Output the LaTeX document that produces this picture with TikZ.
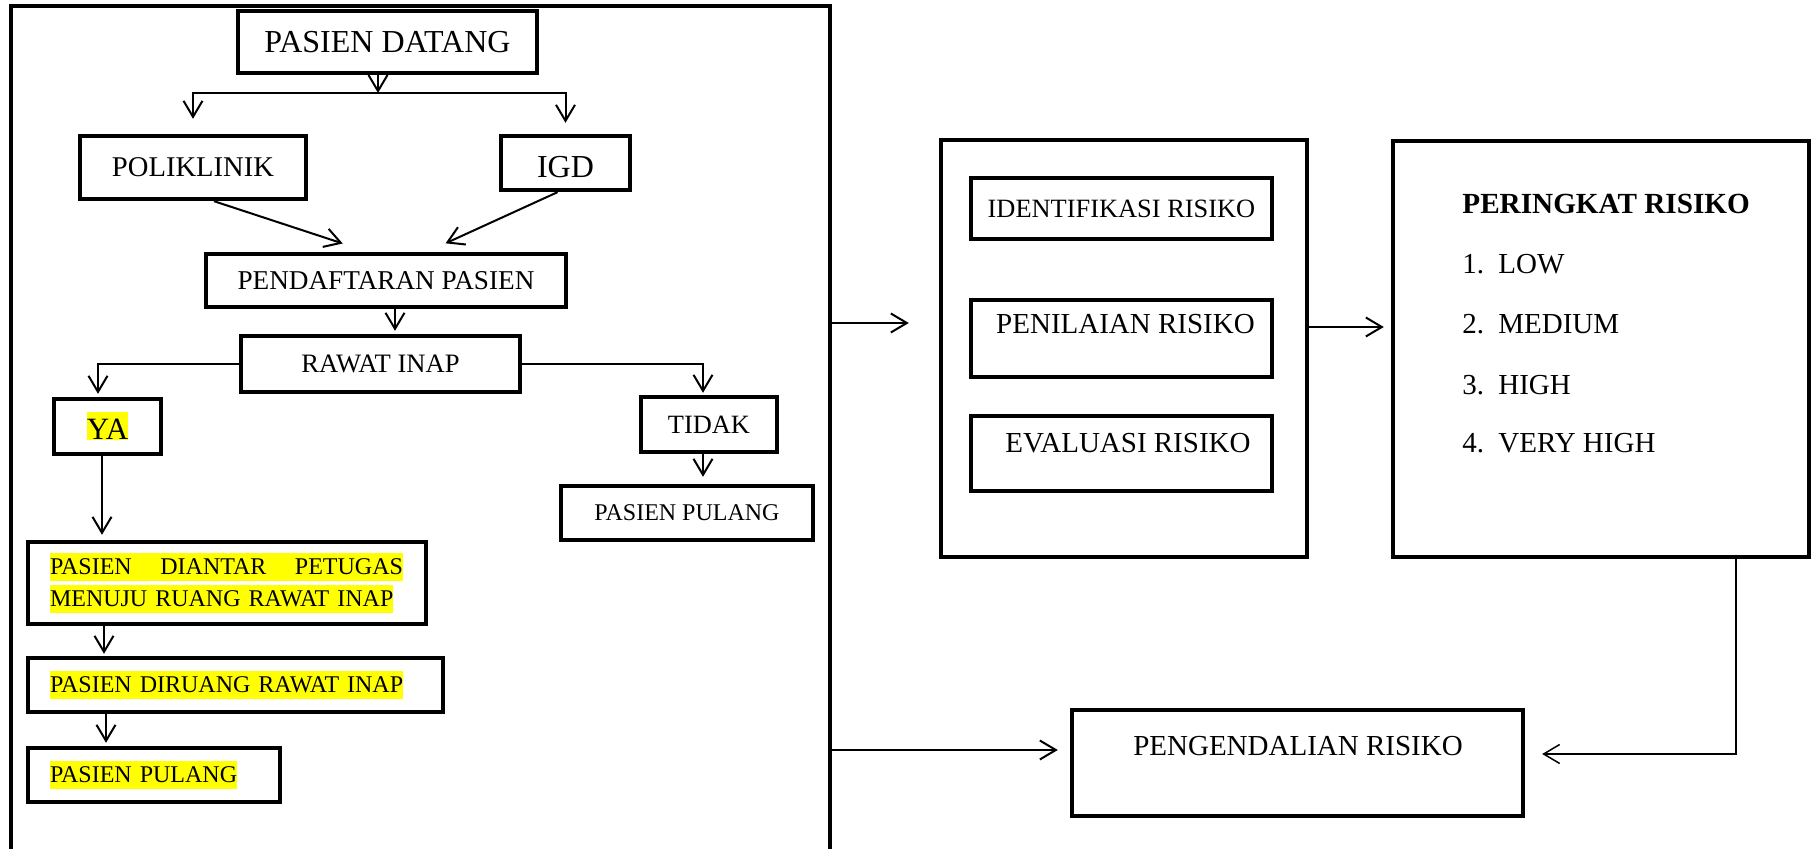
\documentclass[tikz,border=0pt]{standalone}
\usepackage{fontspec}
\setmainfont{Liberation Serif}
\usepackage{tikz}
\usetikzlibrary{arrows.meta}
\usepackage{xcolor}
\definecolor{HlYellow}{RGB}{255,255,0}
\newcommand{\HlMark}[3]{{\setlength{\fboxsep}{0pt}\colorbox{HlYellow}{\rule[-#1]{0pt}{#2}#3}}}
\newcommand{\SizeTo}[1]{\fontsize{#1}{#1}\selectfont}
\tikzstyle{BoxFlow}=[draw=black,line width=2.2pt,inner sep=0pt]
\tikzstyle{BoxLeft}=[BoxFlow,align=left,inner xsep=11pt]
\tikzstyle{EdgeFlow}=[-{Straight Barb[length=8pt,width=9.5pt]},line width=1pt]
\tikzstyle{EdgeThin}=[EdgeFlow,line width=.75pt]
\tikzstyle{TextRank}=[anchor=west,inner sep=0pt,font=\SizeTo{14.5pt}]

\begin{document}
\begin{tikzpicture}[x=.5pt,y=-.5pt]
        \useasboundingbox(0,0)rectangle(1811,849);
        % alur pasien
        \draw[line width=2.2pt](11,849)--(11,6)--(830,6)--(830,849);
        \node[BoxFlow,minimum width=149.5pt,minimum height=31pt,font=\SizeTo{16pt}](datang)at(387.5,42){PASIEN DATANG};
        \node[BoxFlow,minimum width=113pt,minimum height=31.5pt,font=\SizeTo{14.3pt}](poli)at(193,167.5){POLIKLINIK};
        \node[BoxFlow,minimum width=64.5pt,minimum height=27pt,font=\SizeTo{16pt}](igd)at(565.5,163){\raisebox{-2pt}[\height][0pt]{IGD}};
        \node[BoxFlow,minimum width=180pt,minimum height=26.5pt,font=\SizeTo{13.6pt}](daftar)at(386,280.5){PENDAFTARAN PASIEN};
        \node[BoxFlow,minimum width=139.5pt,minimum height=28pt,font=\SizeTo{13.3pt}](rawat)at(380.5,364){RAWAT INAP};
        \node[BoxFlow,minimum width=53.5pt,minimum height=27.5pt,font=\SizeTo{15.5pt}](ya)at(107.5,426.5){\HlMark{.5pt}{14pt}{YA}};
        \node[BoxFlow,minimum width=68pt,minimum height=27.5pt,font=\SizeTo{13.2pt}](tidak)at(709,424.5){TIDAK};
        \node[BoxFlow,minimum width=126pt,minimum height=27pt,font=\SizeTo{12pt}](pulangR)at(687,513){PASIEN PULANG};
        \node[BoxLeft,minimum width=199pt,minimum height=41pt,text width=177pt,font=\fontsize{12pt}{16pt}\selectfont](antar)at(227,583)
            {\HlMark{3pt}{14pt}{\makebox[176.5pt][l]{PASIEN\hfill DIANTAR\hfill PETUGAS}}\\\HlMark{3pt}{14pt}{MENUJU RUANG RAWAT INAP}};
        \node[BoxLeft,minimum width=207.5pt,minimum height=27pt,text width=185.5pt,font=\SizeTo{12pt}](diruang)at(235.5,685){\HlMark{3pt}{14pt}{PASIEN DIRUANG RAWAT INAP}};
        \node[BoxLeft,minimum width=126pt,minimum height=27pt,text width=104pt,font=\SizeTo{12pt}](pulangL)at(154,775){\HlMark{3pt}{14pt}{PASIEN PULANG}};
        \coordinate(fork)at(378,93);
        \draw[line width=1pt](fork-|poli.north)--(fork-|igd.north);
        \draw[EdgeFlow](datang.south-|fork)--(fork);
        \draw[EdgeFlow,shorten >=7.5pt](fork)-|(poli.north);
        \draw[EdgeFlow,shorten >=5.5pt](fork)-|(igd.north);
        \draw[EdgeFlow,shorten >=13.3pt]([xshift=10.5pt]poli.south)--([xshift=-9pt]daftar.north);
        \draw[EdgeFlow,shorten >=10.2pt]([xshift=-4pt]igd.south)--([xshift=20.5pt]daftar.north);
        \draw[EdgeFlow,shorten >=1.5pt]([xshift=4.5pt]daftar.south)--([xshift=4.5pt]daftar.south|-rawat.north);
        \draw[EdgeFlow,shorten >=1.5pt](rawat.west)-|([xshift=-4.75pt]ya.north);
        \draw[EdgeFlow,shorten >=1pt](rawat.east)-|([xshift=-3pt]tidak.north);
        \draw[EdgeFlow,shorten >=3.5pt]([xshift=-3pt]tidak.south)--([xshift=-3pt]tidak.south|-pulangR.north);
        \draw[EdgeFlow,shorten >=2.5pt]([xshift=-2.75pt]ya.south)--([xshift=-2.75pt]ya.south|-antar.north);
        \draw[EdgeFlow,shorten >=1pt]([xshift=-61.5pt]antar.south)--([xshift=-61.5pt]antar.south|-diruang.north);
        \draw[EdgeFlow,shorten >=1.5pt]([xshift=-64.75pt]diruang.south)--([xshift=-64.75pt]diruang.south|-pulangL.north);
        % manajemen risiko
        \node[BoxFlow,minimum width=183pt,minimum height=208.5pt](proses)at(1124,348.5){};
        \node[BoxFlow,minimum width=150.5pt,minimum height=30.5pt,font=\SizeTo{13.2pt}](ident)at(1121.5,208.5){IDENTIFIKASI RISIKO};
        \node[BoxFlow,minimum width=150.5pt,minimum height=38.5pt](nilai)at(1121.5,338.5){};
        \node[font=\SizeTo{14.5pt},inner sep=0pt](nilaiTxt)at(1125.5,324){PENILAIAN RISIKO};
        \node[BoxFlow,minimum width=150.5pt,minimum height=37.5pt](evaluasi)at(1121.5,453.5){};
        \node[font=\SizeTo{14.5pt},inner sep=0pt](evaluasiTxt)at(1128,443){EVALUASI RISIKO};
        \node[BoxFlow,minimum width=208pt,minimum height=208pt](rank)at(1601,349){};
        \node[TextRank,font=\SizeTo{14.6pt}\bfseries](rankTitle)at(1462,204){PERINGKAT RISIKO};
        \node[TextRank](rankLow)at(1462,264){\makebox[18pt][l]{1.}LOW};
        \node[TextRank](rankMed)at(1462,324){\makebox[18pt][l]{2.}MEDIUM};
        \node[TextRank](rankHigh)at(1462,385){\makebox[18pt][l]{3.}HIGH};
        \node[TextRank](rankVHigh)at(1462,443){\makebox[18pt][l]{4.}VERY HIGH};
        \node[BoxFlow,minimum width=225.5pt,minimum height=53pt](kendali)at(1297.5,763){};
        \node[font=\SizeTo{14.5pt},inner sep=0pt](kendaliTxt)at(1298,746){PENGENDALIAN RISIKO};
        \coordinate(frameA)at(830,323);
        \coordinate(frameB)at(830,750);
        \draw[EdgeFlow,shorten >=15pt](frameA)--(frameA-|proses.west);
        \draw[EdgeFlow,shorten >=3.5pt]([yshift=10.75pt]proses.east)--([yshift=10.75pt]proses.east-|rank.west);
        \draw[EdgeFlow,shorten >=6pt](frameB)--(frameB-|kendali.west);
        \draw[EdgeThin,shorten >=8.5pt]([xshift=67.5pt]rank.south)|-([yshift=4.5pt]kendali.east);
    \end{tikzpicture}
\end{document}
